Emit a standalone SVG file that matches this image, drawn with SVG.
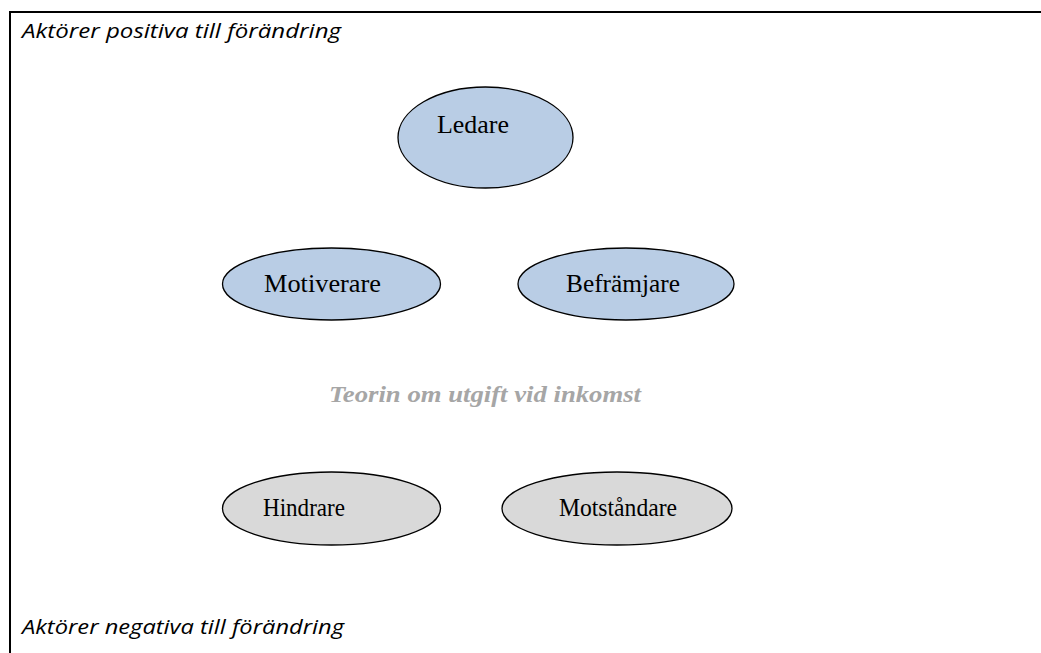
<svg xmlns="http://www.w3.org/2000/svg" width="1041" height="653" viewBox="0 0 1041 653">
<style>
.frame{stroke:#000;stroke-width:2;fill:none}
.pos{fill:#b9cde5;stroke:#000;stroke-width:1.3}
.neg{fill:#d9d9d9;stroke:#000;stroke-width:1.3}
.lbl{font-family:"Liberation Serif",serif;font-size:25px;fill:#000}
.cap{font-family:"Open Sans","Liberation Sans",sans-serif;font-style:italic;font-size:20px;fill:#000}
.theory{font-family:"Liberation Serif",serif;font-style:italic;font-weight:bold;font-size:23px;fill:#a6a6a6}
</style>
<rect width="1041" height="653" fill="#fff"/>
<g id="frame">
<path class="frame" d="M10 653 V12 H1041"/>
</g>
<text class="cap" x="22" y="38" textLength="319" lengthAdjust="spacingAndGlyphs">Aktörer positiva till förändring</text>
<text class="cap" x="22" y="634" textLength="322" lengthAdjust="spacingAndGlyphs">Aktörer negativa till förändring</text>
<text class="theory" x="329" y="402" textLength="312" lengthAdjust="spacingAndGlyphs">Teorin om utgift vid inkomst</text>
<g id="connectors"></g>
<g id="ledare">
<ellipse class="pos" cx="485.5" cy="137.5" rx="87.5" ry="50.5"/>
<text class="lbl" x="437" y="133" textLength="72" lengthAdjust="spacingAndGlyphs">Ledare</text>
</g>
<g id="motiverare">
<ellipse class="pos" cx="331.5" cy="284" rx="109" ry="36"/>
<text class="lbl" x="264" y="292" textLength="117" lengthAdjust="spacingAndGlyphs">Motiverare</text>
</g>
<g id="framjare">
<ellipse class="pos" cx="626" cy="284" rx="108" ry="36"/>
<text class="lbl" x="566" y="292" textLength="114" lengthAdjust="spacingAndGlyphs">Befrämjare</text>
</g>
<g id="hindrare">
<ellipse class="neg" cx="331.5" cy="508.5" rx="109" ry="36.5"/>
<text class="lbl" x="263" y="516" textLength="82" lengthAdjust="spacingAndGlyphs">Hindrare</text>
</g>
<g id="motstandare">
<ellipse class="neg" cx="617" cy="508.5" rx="115" ry="36.5"/>
<text class="lbl" x="559" y="516" textLength="118" lengthAdjust="spacingAndGlyphs">Motståndare</text>
</g>
</svg>
